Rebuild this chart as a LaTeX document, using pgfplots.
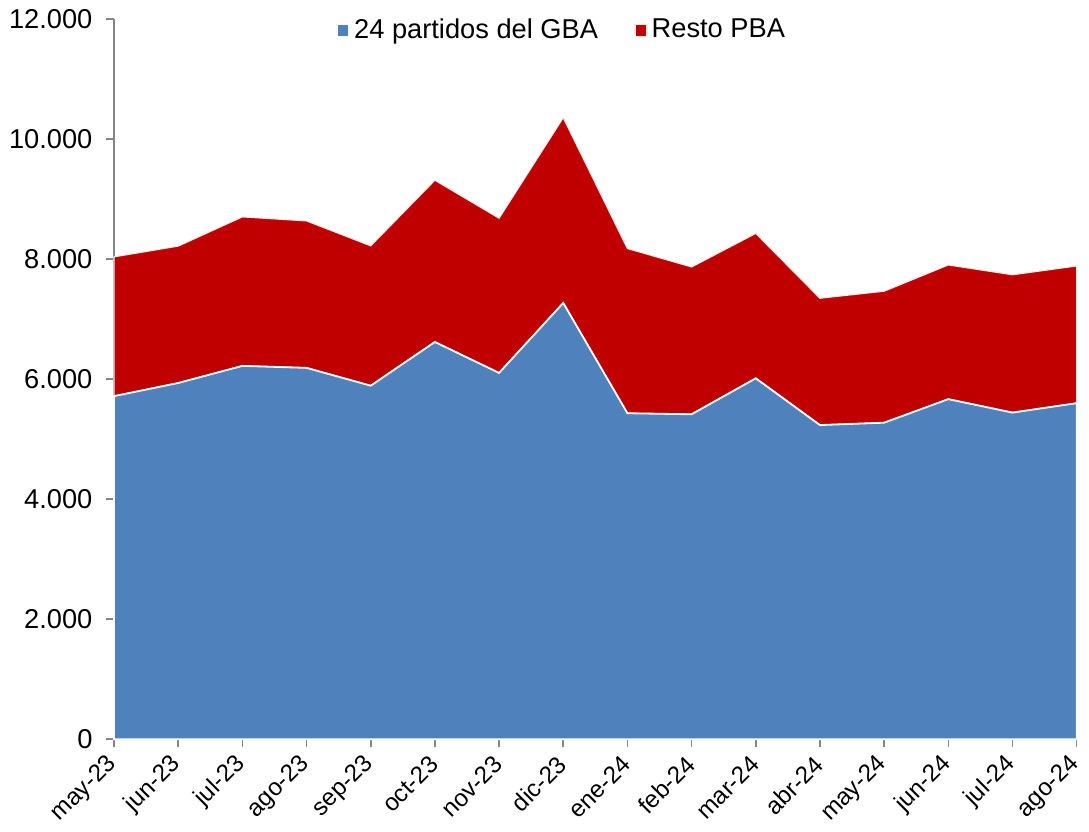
\documentclass[border=0pt]{standalone}
\usepackage{pgfplots}
\pgfplotsset{compat=1.18}
\usepackage{fontspec}
\setmainfont{Liberation Sans}
\definecolor{gbablue}{HTML}{4F81BD}
\definecolor{restored}{HTML}{C00000}
\definecolor{axgray}{HTML}{868686}
\begin{document}
\fontsize{13.5pt}{16pt}\selectfont
\begin{tikzpicture}
\begin{axis}[
  scale only axis,
  width=477pt, height=357pt,
  xmin=0, xmax=15, ymin=0, ymax=12000,
  axis x line=bottom, axis y line=left,
  axis line style={axgray, line width=0.8pt, -},
  tick style={axgray, line width=0.8pt},
  tick align=outside,
  major tick length=4pt,
  xtick={0,...,15},
  xticklabels={may-23,jun-23,jul-23,ago-23,sep-23,oct-23,nov-23,dic-23,ene-24,feb-24,mar-24,abr-24,may-24,jun-24,jul-24,ago-24},
  xticklabel style={yshift=-5pt, xshift=1pt, rotate=45, anchor=east, inner sep=2pt, font=\fontsize{12pt}{14pt}\selectfont},
  ytick={0,2000,4000,6000,8000,10000,12000},
  yticklabel style={font=\fontsize{13.5pt}{16pt}\selectfont, xshift=-2pt},
  scaled y ticks=false,
  /pgf/number format/.cd, use comma=false, 1000 sep={.}, assume math mode=true,
  /pgfplots/.cd,
  stack plots=y,
  legend style={at={(0.466,1.012)}, anchor=north, draw=none, fill=none,
    legend columns=2, font=\fontsize{13.5pt}{16pt}\selectfont,
    /tikz/every even column/.append style={column sep=16pt}},
  legend image code/.code={\fill[#1] (0pt,-3pt) rectangle (6pt,3pt);},
  clip=false,
]
\addplot[fill=gbablue, draw=white, line width=0.9pt] coordinates {
(0,5714) (1,5933) (2,6218) (3,6185) (4,5888) (5,6616) (6,6101) (7,7266)
(8,5429) (9,5412) (10,6011) (11,5232) (12,5272) (13,5664) (14,5440) (15,5597)
} \closedcycle;
\addlegendentry{24 partidos del GBA}
\addplot[fill=restored, draw=gray!15, line width=0.6pt] coordinates {
(0,2320) (1,2280) (2,2482) (3,2448) (4,2330) (5,2695) (6,2577) (7,3087)
(8,2744) (9,2454) (10,2414) (11,2113) (12,2190) (13,2235) (14,2296) (15,2285)
} \closedcycle;
\addlegendentry{Resto PBA}
\end{axis}
\end{tikzpicture}
\end{document}
